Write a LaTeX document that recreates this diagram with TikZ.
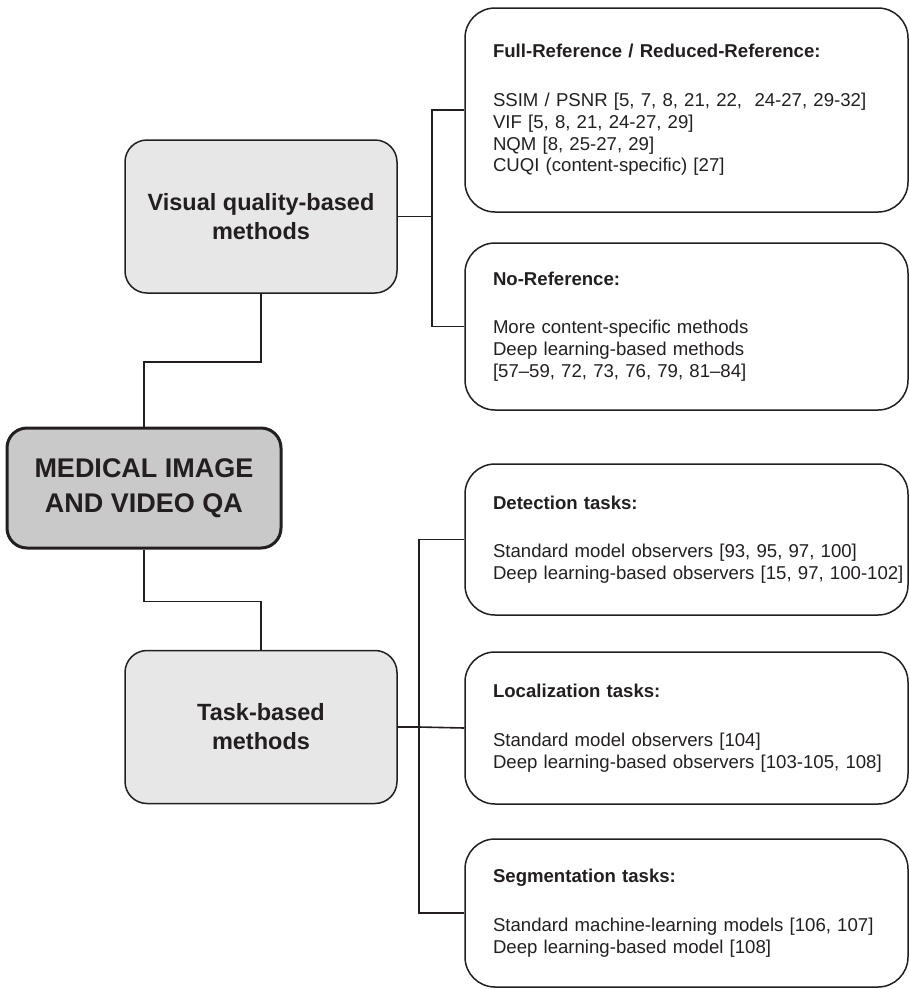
\documentclass[tikz,border=0pt]{standalone}
\usepackage{fontspec}
\setmainfont{Liberation Sans}
\usepackage{xcolor}
\usetikzlibrary{positioning}
\definecolor{lineink}{HTML}{231F20}
\definecolor{lightfill}{HTML}{E6E7E6}
\definecolor{darkfill}{HTML}{C8C9C8}

\begin{document}
\begin{tikzpicture}[x=1pt,y=-1pt,
  mainnode/.style={rectangle, rounded corners=20pt, draw=lineink, fill=darkfill, line width=3pt, text=lineink, minimum width=274pt, minimum height=120pt, align=center, font=\fontsize{27}{35}\selectfont\bfseries},
  groupnode/.style={rectangle, rounded corners=22pt, draw=lineink, fill=lightfill, line width=1.5pt, text=lineink, minimum width=272pt, minimum height=153pt, align=center, font=\fontsize{23.5}{29}\selectfont\bfseries},
  listnode/.style={rectangle, rounded corners=30pt, draw=lineink, line width=1.5pt, text=lineink, minimum width=443pt, text width=387pt, inner xsep=28pt, align=left, font=\fontsize{18.6}{21.8}\selectfont},
  link/.style={draw=lineink, line width=1.6pt}]
            \useasboundingbox (0,0) rectangle (910,989);

            %Nodes
            \node[mainnode](medqa) at (144,488){MEDICAL IMAGE\\AND VIDEO QA};
            \node[groupnode](visual) at (261,216.5){Visual quality-based\\methods};
            \node[groupnode](task) at (261,727){Task-based\\methods};

            \node[listnode, minimum height=204pt](fullref) at (686.5,110){\textbf{Full-Reference / Reduced-Reference:}\\[27pt]
                SSIM / PSNR [5, 7, 8, 21, 22,~ 24-27, 29-32]\\
                VIF [5, 8, 21, 24-27, 29]\\
                NQM [8, 25-27, 29]\\
                CUQI (content-specific) [27]};
            \node[listnode, minimum height=167pt](noref) at (686.5,326.5){\textbf{No-Reference:}\\[27pt]
                More content-specific methods\\
                Deep learning-based methods\\
                {[}57–59, 72, 73, 76, 79, 81–84]};
            \node[listnode, minimum height=151pt](detect) at (686.5,539.5){\textbf{Detection tasks:}\\[27pt]
                Standard model observers [93, 95, 97, 100]\\
                \mbox{Deep learning-based observers [15, 97, 100-102]}};
            \node[listnode, minimum height=152pt](localize) at (686.5,728){\textbf{Localization tasks:}\\[27pt]
                Standard model observers [104]\\
                \mbox{Deep learning-based observers [103-105, 108]}};
            \node[listnode, minimum height=148pt](segment) at (686.5,913){\textbf{Segmentation tasks:}\\[27pt]
                Standard machine-learning models [106, 107]\\
                Deep learning-based model [108]};

            %Lines
            \draw[link](visual.south) -- ++(0,68) -| (medqa.north);
            \draw[link](medqa.south) -- ++(0,52) -| (task.north);
            \draw[link](visual.east) -- ++(34,0) coordinate (visualbus);
            \draw[link](fullref.west) -| (visualbus) |- (noref.west);
            \draw[link](task.east) -- ++(21,0) coordinate (taskbus);
            \draw[link](detect.west) -| (taskbus) |- (segment.west);
            \draw[link](taskbus) -- (localize.west);

        \end{tikzpicture}
\end{document}
